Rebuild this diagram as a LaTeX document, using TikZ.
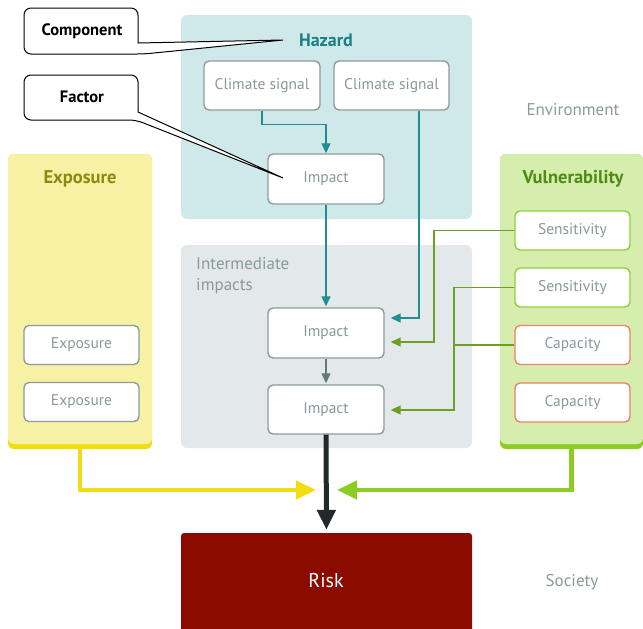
\documentclass[tikz,border=0pt]{standalone}
\usepackage{fontspec}
\setmainfont{PT Sans}
\usetikzlibrary{arrows.meta}

\definecolor{hazfill}{HTML}{CFE9EA}
\definecolor{intfill}{HTML}{E3E9EA}
\definecolor{expfill}{HTML}{F6F1A3}
\definecolor{expbar}{HTML}{F1DD12}
\definecolor{vulfill}{HTML}{D5EEAE}
\definecolor{vulbar}{HTML}{8DCC22}
\definecolor{boxedge}{HTML}{8D9C9C}
\definecolor{boxtext}{HTML}{8A999B}
\definecolor{tealline}{HTML}{1F8E8E}
\definecolor{tealtext}{HTML}{1A8080}
\definecolor{greenline}{HTML}{6E9E22}
\definecolor{sensedge}{HTML}{8FD03A}
\definecolor{capedge}{HTML}{EC8268}
\definecolor{riskfill}{HTML}{8C0B00}
\definecolor{exptitle}{HTML}{8E8A10}
\definecolor{vultitle}{HTML}{4E8C14}
\definecolor{darkshaft}{HTML}{23282A}
\definecolor{greyarrow}{HTML}{66787A}

\begin{document}
\begin{tikzpicture}[x=1pt,y=-1pt,
  panel/.style={rectangle, rounded corners=6pt, inner sep=0pt},
  box/.style={rectangle, draw=boxedge, fill=white, rounded corners=5pt, line width=1.4pt,
    inner sep=0pt, minimum width=116pt, minimum height=49pt, text=boxtext,
    font=\fontsize{15.5}{18}\selectfont},
  smallbox/.style={box, minimum width=115pt, minimum height=39pt},
  sensbox/.style={smallbox, draw=sensedge},
  capbox/.style={smallbox, draw=capedge},
  title/.style={font=\fontsize{18}{20}\selectfont\bfseries, inner sep=1pt},
  note/.style={font=\fontsize{17}{20}\selectfont, text=boxtext, inner sep=1pt},
  callout/.style={draw=black, fill=white, line width=1pt},
  calltext/.style={font=\fontsize{16.5}{18}\selectfont\bfseries, text=black, inner sep=0pt},
  tealarrow/.style={draw=tealline, line width=1.2pt, -{Triangle[width=9pt,length=10pt]}},
  greenarrow/.style={draw=greenline, line width=1.2pt, -{Triangle[width=9pt,length=10pt]}},
  greenwire/.style={draw=greenline, line width=1.2pt},
  greyarr/.style={draw=greyarrow, line width=1.2pt, -{Triangle[width=9pt,length=10pt]}},
  bigarrow/.style={line width=4.5pt, -{Triangle[width=18pt,length=20pt]}},
]
\useasboundingbox (0,0) rectangle (643,629);

% background panels
\node[panel, fill=hazfill, minimum width=291pt, minimum height=204pt] (hazard) at (326.5,117) {};
\node[panel, fill=intfill, minimum width=291pt, minimum height=203pt] (inter) at (326.5,346.5) {};
\node[panel, fill=expbar, minimum width=144pt, minimum height=295pt] (expobar) at (80,301.5) {};
\node[panel, fill=expfill, minimum width=144pt, minimum height=290pt] (expo) at (80,299) {};
\node[panel, fill=vulbar, minimum width=143pt, minimum height=295pt] (vulnbar) at (571.5,301.5) {};
\node[panel, fill=vulfill, minimum width=143pt, minimum height=290pt] (vuln) at (571.5,299) {};

% panel titles and side labels
\node[title, text=tealtext] (hazt) at (326,40) {Hazard};
\node[title, text=exptitle, font=\fontsize{18.5}{20}\selectfont\bfseries] (expt) at (80,179) {Exposure};
\node[title, text=vultitle, font=\fontsize{18.5}{20}\selectfont\bfseries] (vult) at (573,179) {Vulnerability};
\node[note, anchor=north west, align=left, font=\fontsize{17}{21}\selectfont] (intt) at (195,256) {Intermediate\\impacts};
\node[note] (env) at (573,110) {Environment};
\node[note] (soc) at (572,582) {Society};

% factor boxes
\node[box, minimum width=116pt] (cs1) at (262,85.5) {Climate signal};
\node[box, minimum width=115pt] (cs2) at (391.5,85.5) {Climate signal};
\node[box, minimum height=50pt] (imp1) at (326,179) {Impact};
\node[box, minimum height=50pt] (imp2) at (326,333) {Impact};
\node[box] (imp3) at (326,409.5) {Impact};
\node[smallbox] (exp1) at (81.5,345) {Exposure};
\node[smallbox] (exp2) at (81.5,402) {Exposure};
\node[sensbox] (sen1) at (572.5,230.5) {Sensitivity};
\node[sensbox] (sen2) at (572.5,287.5) {Sensitivity};
\node[capbox] (cap1) at (572.5,345) {Capacity};
\node[capbox] (cap2) at (572.5,402.5) {Capacity};

% risk
\node[rectangle, fill=riskfill, minimum width=291pt, minimum height=100pt, inner sep=0pt,
  rounded corners=3pt] (risk) at (326.5,583) {};
\node[text=white, font=\fontsize{20}{22}\selectfont, inner sep=0pt] (risktext) at (326,581) {Risk};

% bend points of the connectors
\coordinate (g1) at (434,0);
\coordinate (g2) at (454,0);
\coordinate (ytip) at (316,490);
\coordinate (gtip) at (337,490);

% hazard chain
\draw[tealarrow] (cs1.south) -- ++(0,14) -| (imp1.north);
\draw[tealarrow, shorten >=1pt] (imp1.south) -- (imp2.north);
\draw[tealarrow, shorten >=6pt] ([xshift=27.5pt]cs2.south) |- ([yshift=15pt]imp2.east);
\draw[greyarr, shorten >=1pt] (imp2.south) -- (imp3.north);

% vulnerability links
\draw[greenarrow, shorten >=6pt] (sen1.west) -- (sen1.west -| g1) |- ([yshift=-9pt]imp2.east);
\draw[greenarrow, shorten >=6pt] (sen2.west) -- (sen2.west -| g2) |- ([yshift=-0.5pt]imp3.east);
\draw[greenwire] (cap1.west) -- (cap1.west -| g2);

% towards risk
\draw[bigarrow, draw=expbar] (expobar.south) |- (ytip);
\draw[bigarrow, draw=vulbar] (vulnbar.south) |- (gtip);
\draw[bigarrow, draw=darkshaft, line width=5pt, shorten >=3pt] (imp3.south) -- (risk.north);

% callouts
\coordinate (comptip) at (283,40);
\coordinate (facttip) at (283,178);
\draw[callout] (comptip) -- (138,43) [rounded corners=7pt] -- (138,8) -- (24,8) -- (24,54) -- (144,54) [sharp corners] -- cycle;
\node[calltext] (comp) at (82,31) {Component};
\draw[callout] (facttip) -- (138,112) [rounded corners=7pt] -- (138,75) -- (24,75) -- (24,120) -- (136,120) [sharp corners] -- cycle;
\node[calltext] (fact) at (82,97) {Factor};
\end{tikzpicture}
\end{document}
